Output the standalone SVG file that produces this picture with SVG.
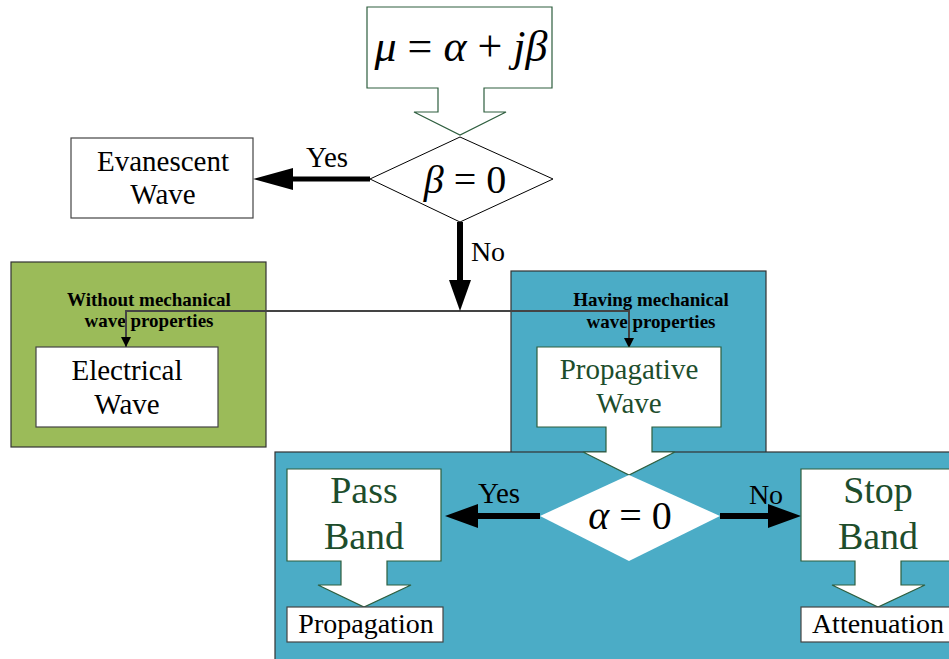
<svg xmlns="http://www.w3.org/2000/svg" width="949" height="659" viewBox="0 0 949 659">
<style>
text{font-family:'Liberation Serif',serif}
.t{fill:#000;text-anchor:middle}
.g{fill:#1d4d2c}
.b{font-weight:bold;font-size:19px}
.wb{fill:#fff;stroke:#2e5e3e;stroke-width:1.2}
.bx{fill:#fff;stroke:#444;stroke-width:1.2}
</style>
<defs>
<marker id="ah" markerWidth="10" markerHeight="10" refX="9" refY="5" orient="auto" markerUnits="userSpaceOnUse">
<path d="M0,0 L10,5 L0,10 Z" fill="#000"/>
</marker>
</defs>
<rect width="949" height="659" fill="#fff"/>

<g id="bg-green"><rect x="11" y="262" width="255" height="185" fill="#9bbb59" stroke="#333" stroke-width="1.2"/></g>
<g id="bg-blue-top"><rect x="511" y="271" width="255" height="185" fill="#4bacc6" stroke="#333" stroke-width="1.2"/></g>
<g id="bg-blue-bottom"><rect x="275" y="452" width="680" height="215" fill="#4bacc6" stroke="#333" stroke-width="1.2"/></g>

<g id="mu">
<path class="wb" d="M367,7 H552 V88 H484 V112 H506 L460,135 L414,112 H438 V88 H367 Z"/>
<text class="t" x="461" y="61" font-family="Liberation Serif" font-size="44" font-style="italic">μ <tspan font-style="normal">=</tspan> α <tspan font-style="normal">+</tspan> jβ</text>
</g>

<g id="beta">
<polygon points="460,137 553,179 460,222 370,179" fill="#fff" stroke="#000" stroke-width="1"/>
<text class="t" x="465" y="193" font-family="Liberation Serif" font-size="40"><tspan font-style="italic">β</tspan> = 0</text>
</g>

<g id="evanescent">
<rect class="bx" x="71" y="138" width="182" height="80"/>
<text class="t" x="163" y="171" font-family="Liberation Serif" font-size="29">Evanescent</text>
<text class="t" x="163" y="204" font-family="Liberation Serif" font-size="29">Wave</text>
</g>

<g id="without-label">
<text class="t b" x="149" y="306" font-family="Liberation Serif">Without mechanical</text>
<text class="t b" x="149" y="327" font-family="Liberation Serif">wave properties</text>
</g>
<g id="electrical">
<rect class="bx" x="36" y="347" width="182" height="80"/>
<text class="t" x="127" y="380" font-family="Liberation Serif" font-size="29">Electrical</text>
<text class="t" x="127" y="414" font-family="Liberation Serif" font-size="29">Wave</text>
</g>

<g id="having-label">
<text class="t b" x="651" y="306" font-family="Liberation Serif">Having mechanical</text>
<text class="t b" x="651" y="328" font-family="Liberation Serif">wave properties</text>
</g>

<g id="connectors">
<polyline points="126,347 126,311 629,311 629,347" fill="none" stroke="#444" stroke-width="2" marker-end="url(#ah)"/>
<path d="M121,337 L131,337 L126,347 Z" fill="#000"/>
<line x1="370" y1="179" x2="290" y2="179" stroke="#000" stroke-width="5"/>
<polygon points="253,179 293,168 293,190" fill="#000"/>
<line x1="460" y1="222" x2="460" y2="282" stroke="#000" stroke-width="6"/>
<polygon points="449,280 471,280 460,311" fill="#000"/>
<line x1="540" y1="516" x2="476" y2="516" stroke="#000" stroke-width="6"/>
<polygon points="445,516 478,504 478,528" fill="#000"/>
<line x1="720" y1="516" x2="770" y2="516" stroke="#000" stroke-width="6"/>
<polygon points="801,516 768,504 768,528" fill="#000"/>
<text class="t" x="327" y="167" font-family="Liberation Serif" font-size="29">Yes</text>
<text class="t" x="488" y="261" font-family="Liberation Serif" font-size="28">No</text>
<text class="t" x="499" y="503" font-family="Liberation Serif" font-size="29">Yes</text>
<text class="t" x="766" y="504" font-family="Liberation Serif" font-size="28">No</text>
</g>

<g id="propagative">
<path class="wb" d="M537,347 H721 V427 H652 V452 H675 L629,475 L583,452 H606 V427 H537 Z"/>
<text class="t g" x="629" y="379" font-family="Liberation Serif" font-size="29">Propagative</text>
<text class="t g" x="629" y="413" font-family="Liberation Serif" font-size="29">Wave</text>
</g>

<g id="alpha">
<polygon points="629,475 720,516 629,561 540,516" fill="#fff"/>
<text class="t" x="630" y="529" font-family="Liberation Serif" font-size="40"><tspan font-style="italic">α</tspan> = 0</text>
</g>

<g id="passband">
<path class="wb" d="M287,469 H441 V561 H387 V585 H411 L364,607 L318,585 H341 V561 H287 Z"/>
<text class="t g" x="364" y="503" font-family="Liberation Serif" font-size="38">Pass</text>
<text class="t g" x="364" y="549" font-family="Liberation Serif" font-size="38">Band</text>
</g>
<g id="propagation">
<rect class="bx" x="287" y="607" width="156" height="35"/>
<text class="t" x="366" y="633" font-family="Liberation Serif" font-size="28">Propagation</text>
</g>

<g id="stopband">
<path class="wb" d="M801,469 H956 V561 H901 V585 H925 L878,607 L832,585 H855 V561 H801 Z"/>
<text class="t g" x="878" y="503" font-family="Liberation Serif" font-size="38">Stop</text>
<text class="t g" x="878" y="549" font-family="Liberation Serif" font-size="38">Band</text>
</g>
<g id="attenuation">
<rect class="bx" x="801" y="607" width="155" height="35"/>
<text class="t" x="878" y="633" font-family="Liberation Serif" font-size="28">Attenuation</text>
</g>
</svg>
